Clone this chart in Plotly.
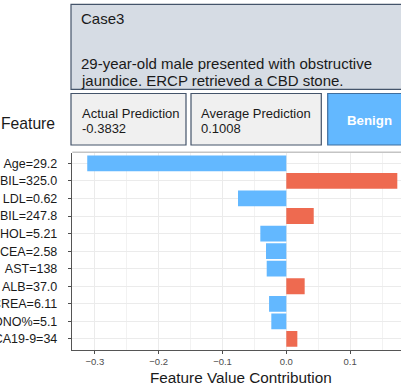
import plotly.graph_objects as go

# ---- data ----
features = ["Age=29.2", "TBIL=325.0", "LDL=0.62", "DBIL=247.8", "CHOL=5.21",
            "CEA=2.58", "AST=138", "ALB=37.0", "CREA=6.11", "MONO%=5.1", "CA19-9=34"]
contributions = [-0.312, 0.174, -0.0757, 0.043, -0.0407,
                 -0.0318, -0.0307, 0.0288, -0.027, -0.0235, 0.0173]
x_ticks = [-0.3, -0.2, -0.1, 0.0, 0.1]
x_tick_labels = ["\u22120.3", "\u22120.2", "\u22120.1", "0.0", "0.1"]
x_minor_ticks = [-0.25, -0.15, -0.05, 0.05, 0.15]
case_title = "Case3"
case_lines = ["29-year-old male presented with obstructive",
              "jaundice. ERCP retrieved a CBD stone."]
actual_prediction = -0.3832
average_prediction = 0.1008
outcome = "Benign"

POS = "#EE6A50"
NEG = "#63B8FF"
W, H = 401, 384


def fx(px):
    return px / W


def fy(py):
    return 1 - py / H


zero_px, ppu = 286.3, 638.0
left_px, right_px = 72.3, 401.0
top_px, bot_px = 152.8, 349.5

y_idx = list(range(len(features)))
colors = [POS if v > 0 else NEG for v in contributions]

fig = go.Figure()
fig.add_trace(go.Bar(
    x=contributions, y=y_idx, orientation="h", width=0.9,
    marker=dict(color=colors, line=dict(width=0)),
    showlegend=False, hoverinfo="x+y",
))

font_family = "Liberation Sans, Arial, sans-serif"

fig.update_layout(
    width=W, height=H,
    margin=dict(l=0, r=0, t=0, b=0),
    paper_bgcolor="white", plot_bgcolor="white",
    font=dict(family=font_family, color="#1A1A1A"),
    bargap=0.1,
    xaxis=dict(
        domain=[fx(left_px), 1],
        range=[(left_px - zero_px) / ppu, (right_px - zero_px) / ppu],
        tickvals=x_ticks, ticktext=x_tick_labels,
        tickfont=dict(size=9.5, color="#4D4D4D"),
        ticks="outside", ticklen=3, tickcolor="#4D4D4D", tickwidth=1,
        showgrid=True, gridcolor="#EBEBEB", gridwidth=1,
        minor=dict(tickvals=x_minor_ticks, showgrid=True, gridcolor="#F2F2F2",
                   gridwidth=0.6, ticks=""),
        showline=True, linecolor="#555555", linewidth=1,
        zeroline=False, fixedrange=True,
    ),
    yaxis=dict(
        domain=[fy(bot_px), fy(top_px)],
        range=[len(features) - 1 + 0.6, -0.6],
        tickvals=y_idx, ticktext=features,
        tickfont=dict(size=12.5, color="#1A1A1A"),
        ticks="outside", ticklen=3.5, tickcolor="#4D4D4D", tickwidth=1,
        ticklabelstandoff=8,
        showgrid=True, gridcolor="#EBEBEB", gridwidth=1,
        showline=True, linecolor="#555555", linewidth=1,
        zeroline=False, automargin=False, fixedrange=True,
    ),
)

shapes = []
# top border of panel
shapes.append(dict(type="line", xref="paper", yref="paper",
                   x0=fx(left_px), x1=1.05, y0=fy(top_px - 0.5), y1=fy(top_px - 0.5),
                   line=dict(color="#C4C4C4", width=1.5)))
# Case box
shapes.append(dict(type="rect", xref="paper", yref="paper",
                   x0=fx(71), x1=fx(412), y0=fy(89.3), y1=fy(4.3),
                   fillcolor="#D6DCE4", line=dict(color="#44546A", width=1.2)))
# Actual prediction box
shapes.append(dict(type="rect", xref="paper", yref="paper",
                   x0=fx(71), x1=fx(186), y0=fy(145), y1=fy(93.5),
                   fillcolor="#F0F0F0", line=dict(color="#44546A", width=1.2)))
# Average prediction box
shapes.append(dict(type="rect", xref="paper", yref="paper",
                   x0=fx(191), x1=fx(321.3), y0=fy(145), y1=fy(93.5),
                   fillcolor="#F0F0F0", line=dict(color="#44546A", width=1.2)))
# Outcome box
shapes.append(dict(type="rect", xref="paper", yref="paper",
                   x0=fx(327.7), x1=fx(412), y0=fy(145), y1=fy(93.5),
                   fillcolor=NEG, line=dict(color="#3F6E9E", width=1.2)))
fig.update_layout(shapes=shapes)

ann = []


def text(px, py, s, size, xanchor="left", color="#1A1A1A", bold=False):
    if bold:
        s = "<b>" + s + "</b>"
    ann.append(dict(x=fx(px), y=fy(py), xref="paper", yref="paper", text=s,
                    showarrow=False, xanchor=xanchor, yanchor="middle",
                    font=dict(size=size, color=color, family=font_family)))


text(79, 19, case_title, 15)
text(79, 64, case_lines[0], 15)
text(79, 80.5, case_lines[1], 15)
text(80, 113.5, "Actual Prediction", 13)
text(80, 128.5, f"{actual_prediction:.4f}", 13)
text(199, 113.5, "Average Prediction", 13)
text(199, 128.5, f"{average_prediction:.4f}", 13)
text(369.8, 120, outcome, 13.3, xanchor="center", color="white", bold=True)
text(57.3, 123.3, "Feature", 15.7, xanchor="right")
text(241.5, 377, "Feature Value Contribution", 15.3, xanchor="center")
fig.update_layout(annotations=ann)

fig.write_html("out.html")
